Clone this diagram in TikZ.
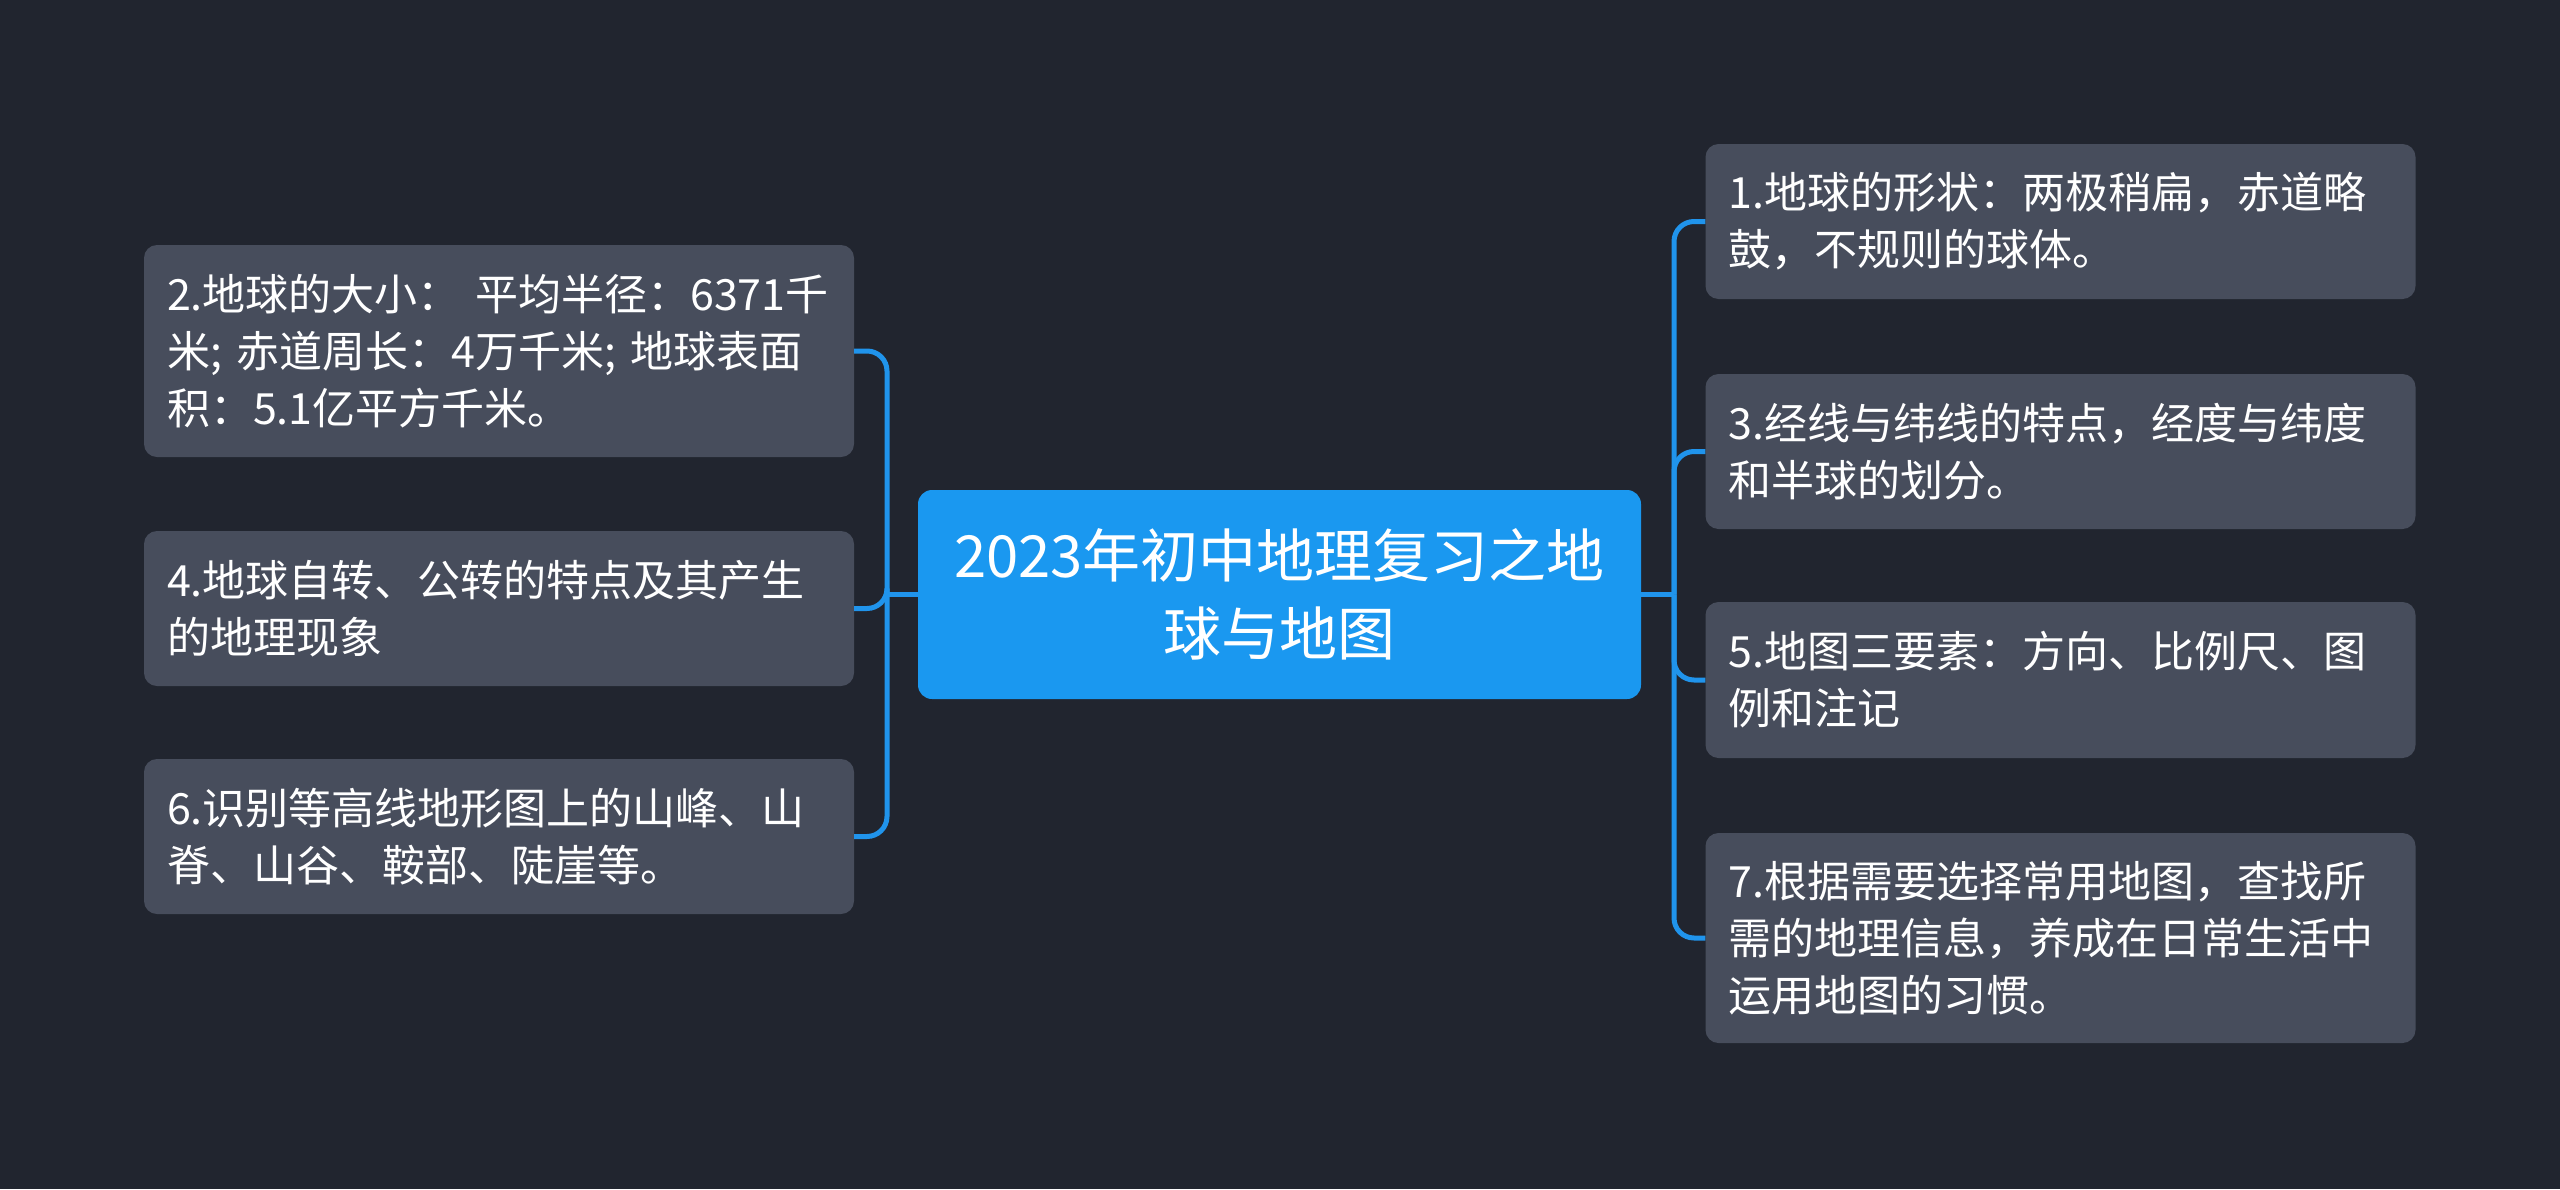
\documentclass[tikz,border=0pt]{standalone}
\usepackage{fontspec}
\setmainfont{Noto Sans CJK SC}
\definecolor{bg}{HTML}{21252F}
\definecolor{boxgray}{HTML}{474D5C}
\definecolor{mainblue}{HTML}{1A98F0}
\definecolor{lineblue}{HTML}{2094EC}
\tikzset{
  leaf/.style={rectangle, rounded corners=13pt, fill=boxgray, text=white,
    font=\fontsize{43}{57}\selectfont, align=left, text width=664pt,
    inner xsep=23pt, inner ysep=0pt},
  root/.style={rectangle, rounded corners=14pt, fill=mainblue, text=white,
    font=\fontsize{58}{78}\selectfont, align=center, text width=690pt,
    inner xsep=16.5pt, inner ysep=0pt, minimum height=209pt},
  conn/.style={draw=lineblue, line width=5pt, rounded corners=20pt}
}
\begin{document}
\begin{tikzpicture}[x=1pt,y=-1pt]
\useasboundingbox (0,0) rectangle (2560,1189);
\fill[bg] (0,0) rectangle (2560,1189);

\node[root] (c) at (1279.5,594.5) {2023年初中地理复习之地\\球与地图};

\node[leaf, minimum height=212pt] (n2) at (499,351) {2.地球的大小： 平均半径：6371千\\米; 赤道周长：4万千米; 地球表面\\积：5.1亿平方千米。};
\node[leaf, minimum height=155pt] (n4) at (499,608.5) {4.地球自转、公转的特点及其产生\\的地理现象};
\node[leaf, minimum height=155pt] (n6) at (499,836.5) {6.识别等高线地形图上的山峰、山\\脊、山谷、鞍部、陡崖等。};

\node[leaf, minimum height=155pt] (n1) at (2060.5,221.5) {1.地球的形状：两极稍扁，赤道略\\鼓，不规则的球体。};
\node[leaf, minimum height=155pt] (n3) at (2060.5,451.5) {3.经线与纬线的特点，经度与纬度\\和半球的划分。};
\node[leaf, minimum height=156pt] (n5) at (2060.5,680) {5.地图三要素：方向、比例尺、图\\例和注记};
\node[leaf, minimum height=210pt] (n7) at (2060.5,938) {7.根据需要选择常用地图，查找所\\需的地理信息，养成在日常生活中\\运用地图的习惯。};

\coordinate (tL) at (887,594.5);
\coordinate (tR) at (1674,594.5);

\draw[conn] (c.west) -- (tL);
\draw[conn] (tL) |- (n2.east);
\draw[conn] (tL) |- (n4.east);
\draw[conn] (tL) |- (n6.east);

\draw[conn] (c.east) -- (tR);
\draw[conn] (tR) |- (n1.west);
\draw[conn] (tR) |- (n3.west);
\draw[conn] (tR) |- (n5.west);
\draw[conn] (tR) |- (n7.west);
\end{tikzpicture}
\end{document}
